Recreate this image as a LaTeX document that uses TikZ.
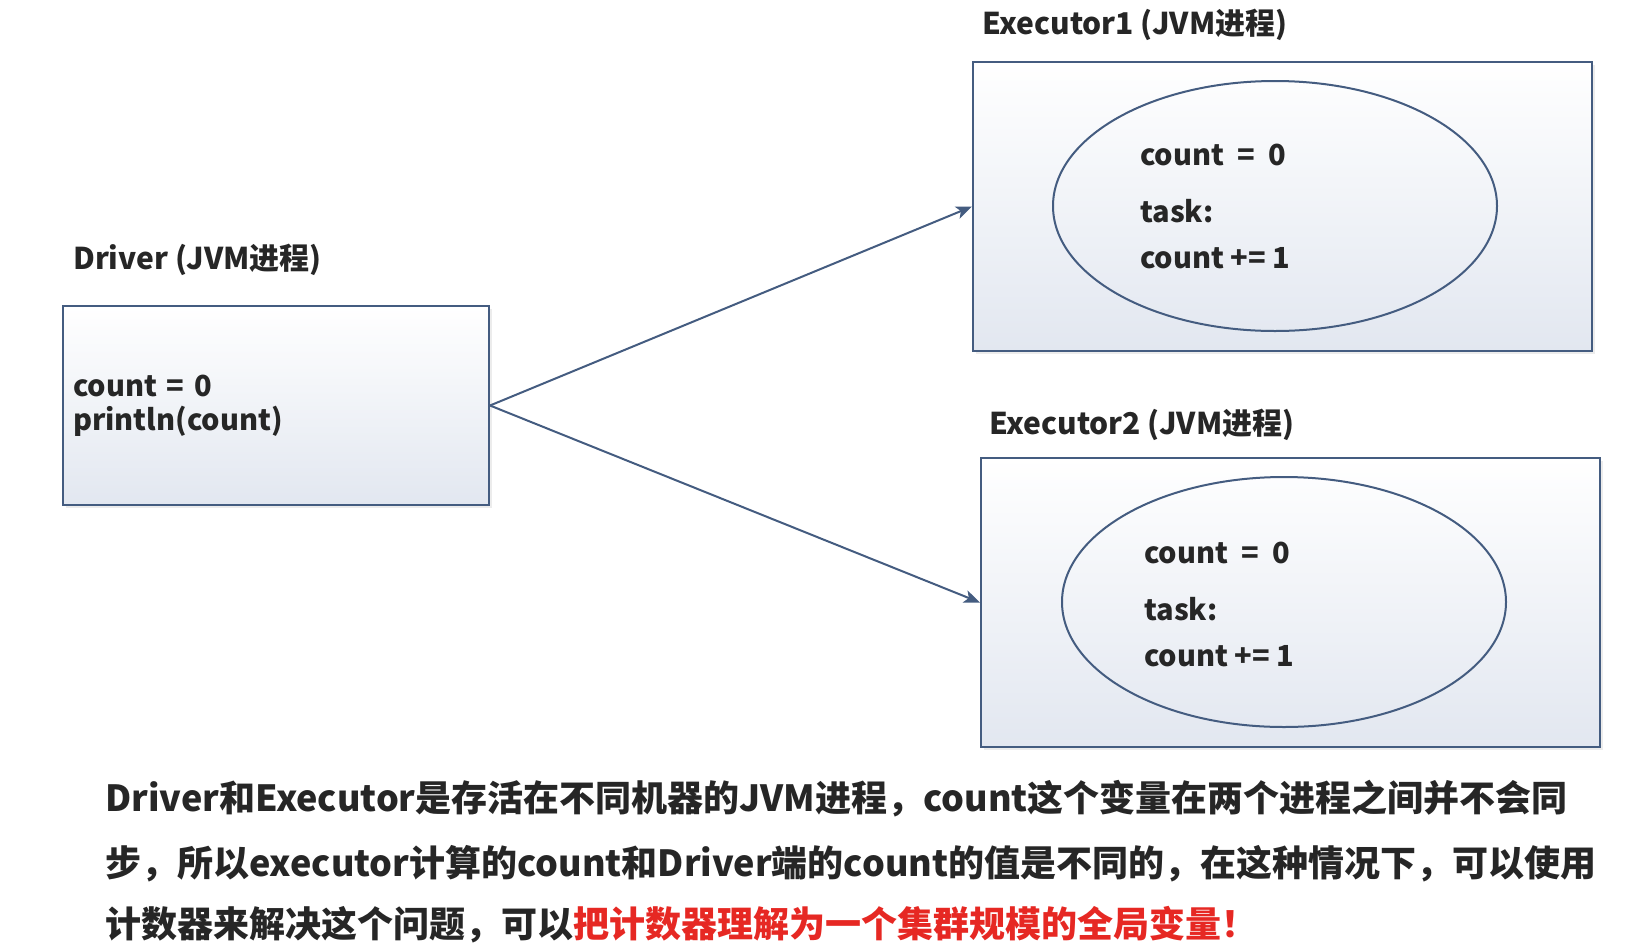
\documentclass[tikz,border=0pt]{standalone}
\usepackage{fontspec}
\setmainfont{Noto Sans CJK SC}
\usetikzlibrary{arrows.meta,shapes.geometric,shadows}
\begin{document}
\begin{tikzpicture}[x=1pt,y=-1pt,
bloc/.style={draw=bord,line width=2pt,top color=white,bottom color=fond,inner sep=0pt,
  drop shadow={opacity=0.15,shadow xshift=3pt,shadow yshift=-3pt}},
bulle/.style={ellipse,draw=bord,line width=2pt,inner sep=0pt,minimum width=444pt,minimum height=250pt},
titre/.style={font=\fontsize{30}{34}\selectfont\bfseries,text=encre,inner sep=0pt},
code/.style={font=\fontsize{29}{34}\selectfont\bfseries,text=encre,align=left,inner sep=0pt},
tache/.style={font=\fontsize{29}{46}\selectfont\bfseries,text=encre,align=left,inner sep=0pt},
texte/.style={font=\fontsize{36}{40}\selectfont\bfseries,text=encre,inner sep=0pt},
lien/.style={-{Stealth[length=16pt,width=13pt,inset=4pt]},line width=2pt,draw=bord}]
\definecolor{bord}{RGB}{68,92,128}
\definecolor{fond}{RGB}{226,231,240}
\definecolor{encre}{RGB}{38,38,38}
\definecolor{rouge}{RGB}{230,40,35}
\useasboundingbox (0,0) rectangle (1642,946);
% driver
\node[bloc,minimum width=426pt,minimum height=199pt,text width=406pt,inner xsep=10pt,
  code,align=left] (driver) at (276,405.5) {count = 0\\println(count)};
\node[titre,anchor=west] (tdriver) at (73,260) {Driver (JVM进程)};
% executors
\node[bloc,minimum width=619pt,minimum height=289pt] (exec1) at (1282.5,206.5) {};
\node[titre,anchor=west] (texec1) at (982,25) {Executor1 (JVM进程)};
\node[bulle] (task1) at (1275,206) {};
\node[tache,anchor=west] (code1) at (1140,206) {count\ \ =\ \ 0\\[11pt]task:\\count += 1};
\node[bloc,minimum width=619pt,minimum height=289pt] (exec2) at (1290.5,602.5) {};
\node[titre,anchor=west] (texec2) at (989,425) {Executor2 (JVM进程)};
\node[bulle] (task2) at (1284,602) {};
\node[tache,anchor=west] (code2) at (1144,604) {count\ \ =\ \ 0\\[11pt]task:\\count += 1};
\draw[lien] (driver.east) -- (exec1.west);
\draw[lien] (driver.east) -- (exec2.west);
% explication
\node[texte,anchor=west] (ligne1) at (105,799) {Driver和Executor是存活在不同机器的JVM进程，count这个变量在两个进程之间并不会同};
\node[texte,anchor=west] (ligne2) at (105,864) {步，所以executor计算的count和Driver端的count的值是不同的，在这种情况下，可以使用};
\node[texte,anchor=west] (ligne3) at (105,925) {计数器来解决这个问题，可以\textcolor{rouge}{把计数器理解为一个集群规模的全局变量！}};
\end{tikzpicture}
\end{document}
